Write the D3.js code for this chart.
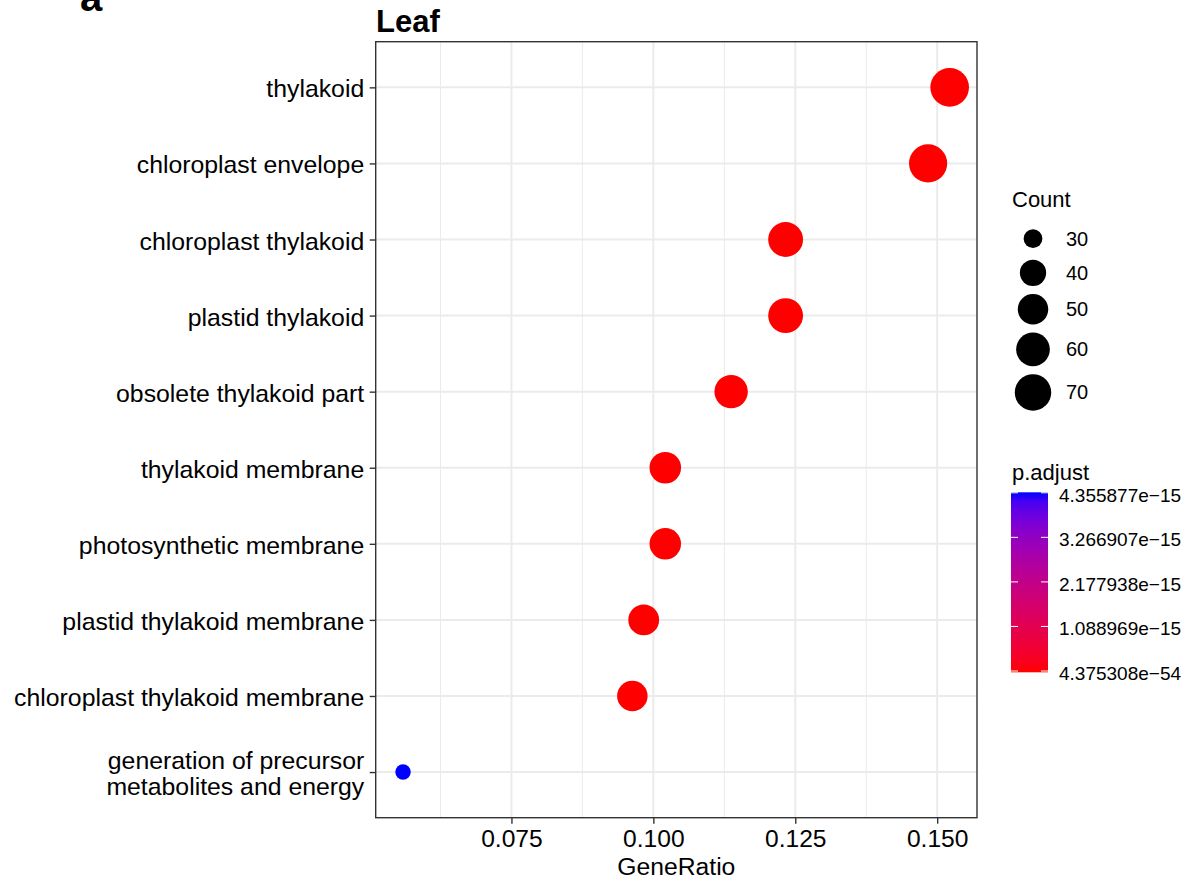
<!DOCTYPE html>
<html>
<head>
<meta charset="utf-8">
<script src="https://cdn.jsdelivr.net/npm/d3@7/dist/d3.min.js"></script>
<style>
  html, body { margin: 0; padding: 0; background: #fff; }
  svg { display: block; }
  text { font-family: "Liberation Sans", Arial, Helvetica, sans-serif; fill: #000; }
</style>
</head>
<body>
<svg id="chart" width="1186" height="882"></svg>
<script>
// ---- data (top to bottom as drawn) ----
const categories = [
  "thylakoid",
  "chloroplast envelope",
  "chloroplast thylakoid",
  "plastid thylakoid",
  "obsolete thylakoid part",
  "thylakoid membrane",
  "photosynthetic membrane",
  "plastid thylakoid membrane",
  "chloroplast thylakoid membrane",
  "generation of precursor\nmetabolites and energy"
];
const geneRatio = [0.1522, 0.1484, 0.1233, 0.1233, 0.1137, 0.1021, 0.1021, 0.0983, 0.0963, 0.0559];
const counts    = [79, 77, 64, 64, 59, 53, 53, 51, 50, 29];
const pAdjust   = [4.375308e-54, 1.2e-45, 3.5e-40, 3.5e-40, 2.1e-36, 5.6e-30, 5.6e-30, 8.7e-28, 2.4e-27, 4.355877e-15];

const xTicks = [0.075, 0.100, 0.125, 0.150];
const xTickLabels = ["0.075", "0.100", "0.125", "0.150"];
const xMinor = [0.0625, 0.0875, 0.1125, 0.1375];
const countBreaks = [30, 40, 50, 60, 70];
const pBreaks = [4.375308e-54, 1.088969e-15, 2.177938e-15, 3.266907e-15, 4.355877e-15];
const pBreakLabels = ["4.375308e\u221254", "1.088969e\u221215", "2.177938e\u221215", "3.266907e\u221215", "4.355877e\u221215"];

const title = "Leaf";
const panelLetter = "a";
const xTitle = "GeneRatio";

// ---- layout ----
const svg = d3.select("#chart");
svg.append("rect").attr("width", 1186).attr("height", 882).attr("fill", "#fff");

const P = { left: 375.7, right: 977, top: 41.7, bottom: 817.7 };

const xExt = d3.extent(geneRatio);
const pad = (xExt[1] - xExt[0]) * 0.05;
const x = d3.scaleLinear().domain([xExt[0] - pad, xExt[1] + pad]).range([P.left, P.right]);
const y = d3.scalePoint().domain(categories).range([P.top, P.bottom]).padding(0.6);

const cExt = d3.extent(counts);
const tScale = d3.scaleLinear().domain(cExt).range([0, 1]);
const sizeScale = d3.scaleLinear().domain([0, 1]).range([3, 8]);      // ggplot size range
const rOf = c => (sizeScale(Math.sqrt(Math.max(0, tScale(c)))) * 2.845 + 0.945) * 0.815;

const pExt = d3.extent(pAdjust);
const colorScale = d3.scaleLinear().domain(pExt).range(["#ff0000", "#0000ff"]).interpolate(d3.interpolateLab);

// ---- grid ----
const g = svg.append("g");
g.selectAll("line.minor").data(xMinor).join("line")
  .attr("x1", d => x(d)).attr("x2", d => x(d))
  .attr("y1", P.top).attr("y2", P.bottom)
  .attr("stroke", "#ebebeb").attr("stroke-width", 1);
g.selectAll("line.majx").data(xTicks).join("line")
  .attr("x1", d => x(d)).attr("x2", d => x(d))
  .attr("y1", P.top).attr("y2", P.bottom)
  .attr("stroke", "#ebebeb").attr("stroke-width", 2);
g.selectAll("line.majy").data(categories).join("line")
  .attr("x1", P.left).attr("x2", P.right)
  .attr("y1", d => y(d)).attr("y2", d => y(d))
  .attr("stroke", "#ebebeb").attr("stroke-width", 2);

// ---- points ----
const pts = categories.map((c, i) => ({ cat: c, ratio: geneRatio[i], count: counts[i], p: pAdjust[i] }));
svg.append("g").selectAll("circle").data(pts).join("circle")
  .attr("cx", d => x(d.ratio)).attr("cy", d => y(d.cat))
  .attr("r", d => rOf(d.count))
  .attr("fill", d => colorScale(d.p));

// ---- panel border ----
svg.append("rect")
  .attr("x", P.left).attr("y", P.top)
  .attr("width", P.right - P.left).attr("height", P.bottom - P.top)
  .attr("fill", "none").attr("stroke", "#333").attr("stroke-width", 1.4);

// ---- axes ----
const xAxis = svg.append("g").attr("transform", `translate(0,${P.bottom})`)
  .call(d3.axisBottom(x).tickValues(xTicks).tickFormat((d, i) => xTickLabels[i]).tickSize(6).tickPadding(8));
xAxis.select(".domain").remove();
xAxis.selectAll(".tick line").attr("stroke", "#333").attr("stroke-width", 1.4);
xAxis.selectAll(".tick text").attr("font-size", 24.6).attr("dy", null).attr("y", 29).attr("fill", "#000")
  .attr("font-family", "Liberation Sans, Arial, sans-serif");

const yAxis = svg.append("g").attr("transform", `translate(${P.left},0)`)
  .call(d3.axisLeft(y).tickSize(6).tickFormat(""));
yAxis.select(".domain").remove();
yAxis.selectAll(".tick line").attr("stroke", "#333").attr("stroke-width", 1.4);
yAxis.selectAll(".tick").each(function (d) {
  const lines = d.split("\n");
  const t = d3.select(this).append("text")
    .attr("text-anchor", "end").attr("font-size", 24.8)
    .attr("font-family", "Liberation Sans, Arial, sans-serif").attr("fill", "#000");
  if (lines.length === 1) {
    t.append("tspan").attr("x", -11.5).attr("y", 9.5).text(lines[0]);
  } else {
    lines.forEach((l, k) => t.append("tspan").attr("x", -11.5).attr("y", -4 + k * 26).text(l));
  }
});

// ---- titles ----
svg.append("text").attr("x", 376).attr("y", 32).attr("font-size", 31).attr("font-weight", "bold").text(title);
svg.append("text").attr("x", 80).attr("y", 11).attr("font-size", 40).attr("font-weight", "bold").text(panelLetter);
svg.append("text").attr("x", (P.left + P.right) / 2).attr("y", 875).attr("text-anchor", "middle")
  .attr("font-size", 24.7).text(xTitle);

// ---- size legend ----
const L = svg.append("g");
L.append("text").attr("x", 1012).attr("y", 206.5).attr("font-size", 22).text("Count");
let cy = 221.7;
countBreaks.forEach((c, i) => {
  const r = rOf(c);
  const h = Math.max(34, 2 * r + 8);
  const yc = cy + (i === 0 ? 17 : h / 2);
  L.append("circle").attr("cx", 1033).attr("cy", yc).attr("r", r).attr("fill", "#000");
  L.append("text").attr("x", 1066).attr("y", yc).attr("dy", "0.35em").attr("font-size", 20).text(c);
  cy = yc + h / 2;
});

// ---- colour bar ----
const cb = { x: 1011, w: 37, top: 492.3, bottom: 672.3 };
const defs = svg.append("defs");
const grad = defs.append("linearGradient").attr("id", "pgrad")
  .attr("x1", 0).attr("y1", 1).attr("x2", 0).attr("y2", 0);
d3.range(0, 1.0001, 0.05).forEach(t => {
  grad.append("stop").attr("offset", t).attr("stop-color", d3.interpolateLab("#ff0000", "#0000ff")(t));
});
L.append("text").attr("x", 1012).attr("y", 480).attr("font-size", 22).text("p.adjust");
L.append("rect").attr("x", cb.x).attr("y", cb.top).attr("width", cb.w).attr("height", cb.bottom - cb.top)
  .attr("fill", "url(#pgrad)");
const cbY = d3.scaleLinear().domain(pExt).range([671, 492.8]);
pBreaks.forEach((b, i) => {
  const yy = cbY(b);
  L.append("line").attr("x1", cb.x).attr("x2", cb.x + 7).attr("y1", yy).attr("y2", yy)
    .attr("stroke", "#fff").attr("stroke-width", 1);
  L.append("line").attr("x1", cb.x + cb.w - 7).attr("x2", cb.x + cb.w).attr("y1", yy).attr("y2", yy)
    .attr("stroke", "#fff").attr("stroke-width", 1);
  L.append("text").attr("x", 1059).attr("y", yy + 8.7).attr("font-size", 19).text(pBreakLabels[i]);
});
</script>
</body>
</html>
